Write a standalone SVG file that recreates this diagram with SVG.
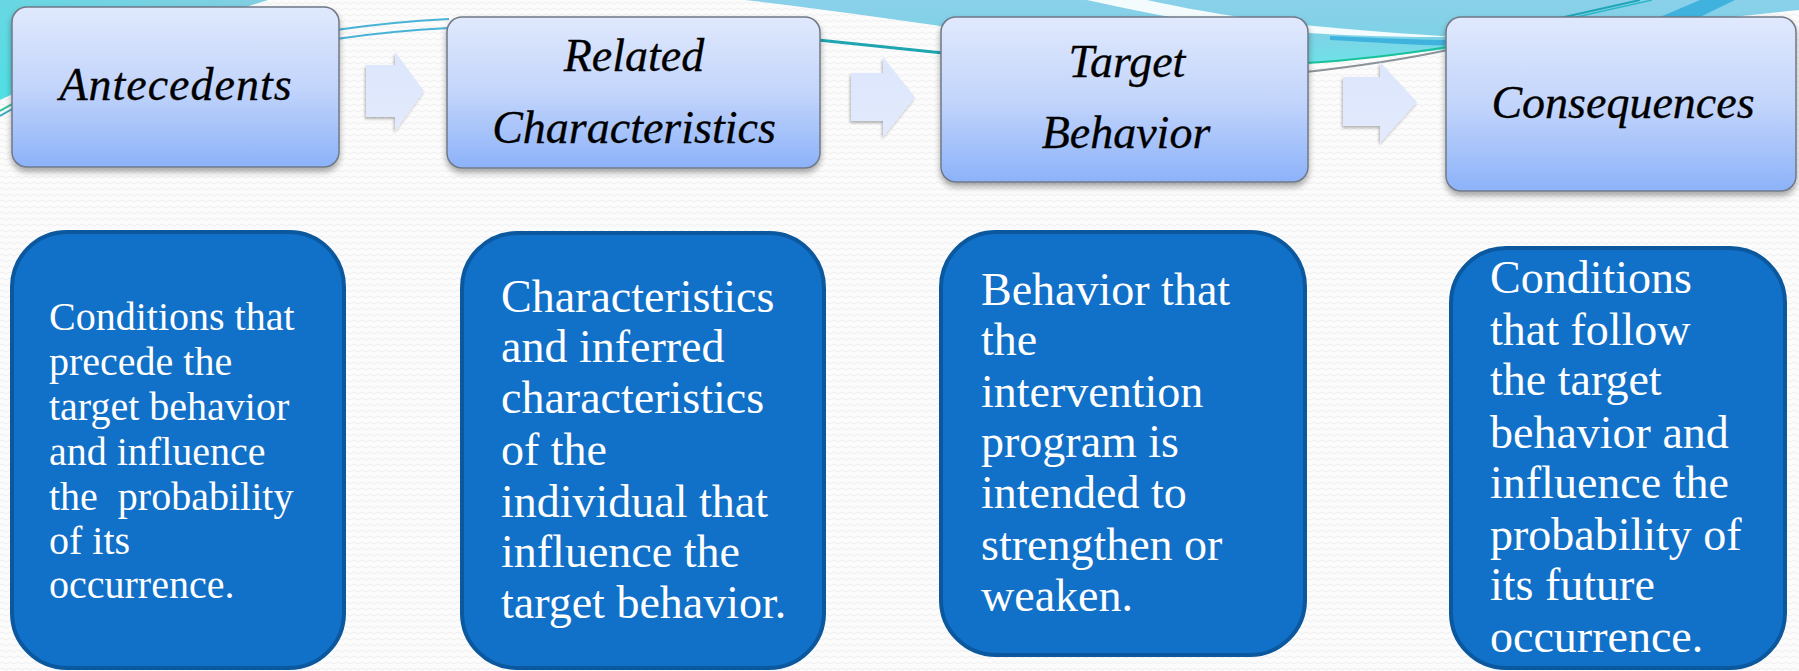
<svg xmlns="http://www.w3.org/2000/svg" width="1799" height="671" viewBox="0 0 1799 671">
  <defs>
    <pattern id="wave" width="8" height="6" patternUnits="userSpaceOnUse">
      <rect width="8" height="6" fill="#fcfcfc"/>
      <path d="M0,3 Q2,0.8 4,3 T8,3" fill="none" stroke="#ebebeb" stroke-width="0.9"/>
    </pattern>
    <linearGradient id="headGrad" x1="0" y1="0" x2="0" y2="1">
      <stop offset="0" stop-color="#e0e9fd"/>
      <stop offset="0.5" stop-color="#c3d5fb"/>
      <stop offset="1" stop-color="#8cb2f9"/>
    </linearGradient>
    <linearGradient id="arrowGrad" x1="0" y1="0" x2="0" y2="1">
      <stop offset="0" stop-color="#dce6fc"/>
      <stop offset="1" stop-color="#e3eafd"/>
    </linearGradient>
    <linearGradient id="cornerGrad" x1="0" y1="1" x2="1" y2="0">
      <stop offset="0" stop-color="#4fe0e4"/>
      <stop offset="1" stop-color="#82cee2"/>
    </linearGradient>
    <linearGradient id="bandGrad" x1="0" y1="0" x2="0" y2="1">
      <stop offset="0" stop-color="#8ad0ea"/>
      <stop offset="0.55" stop-color="#7fd2e6"/>
      <stop offset="1" stop-color="#6ee2e8"/>
    </linearGradient>
    <filter id="boxShadow" x="-10%" y="-10%" width="120%" height="130%">
      <feGaussianBlur in="SourceAlpha" stdDeviation="3"/>
      <feOffset dx="0" dy="4" result="b"/>
      <feComponentTransfer><feFuncA type="linear" slope="0.35"/></feComponentTransfer>
      <feMerge><feMergeNode/><feMergeNode in="SourceGraphic"/></feMerge>
    </filter>
    <filter id="arrowShadow" x="-20%" y="-20%" width="140%" height="140%">
      <feGaussianBlur in="SourceAlpha" stdDeviation="1.5"/>
      <feOffset dx="-1" dy="2" result="b"/>
      <feComponentTransfer><feFuncA type="linear" slope="0.3"/></feComponentTransfer>
      <feMerge><feMergeNode/><feMergeNode in="SourceGraphic"/></feMerge>
    </filter>
  </defs>
  <style>
    .head { fill: url(#headGrad); stroke: #6f7886; stroke-width: 1.5; filter: url(#boxShadow); }
    .headText { font-family: "Liberation Serif", "DejaVu Serif", serif; font-style: italic; font-size: 46px; fill: #000; stroke: #000; stroke-width: 0.3; text-anchor: middle; }
    .card { fill: #1170c8; stroke: #0b589f; stroke-width: 4; }
    .cardText { font-family: "Liberation Serif", "DejaVu Serif", serif; font-size: 46px; fill: #ffffff; white-space: pre; }
    .small { font-size: 40px; }
    .flow { fill: url(#arrowGrad); filter: url(#arrowShadow); }
  </style>

  <!-- textured backdrop -->
  <rect width="1799" height="671" fill="url(#wave)"/>

  <!-- decorative swoosh along the top edge -->
  <g id="swoosh">
    <path d="M0,0 H268 C190,25 80,62 0,100 Z" fill="url(#cornerGrad)"/>
    <path d="M745,0 C900,18 1050,45 1200,58 C1260,63 1300,64 1330,61 C1500,45 1650,25 1799,10 V0 Z" fill="url(#bandGrad)"/>
    <path d="M1087,0 H1147 C1220,16 1300,28 1460,37 C1300,38 1200,26 1087,0 Z" fill="#ffffff" opacity="0.9"/>
    <path d="M1330,36 C1380,38 1420,40 1460,40 L1460,46 C1410,45 1370,42 1330,40 Z" fill="#3fb3de"/>
    <path d="M1660,17 L1700,0 H1735 L1700,17 Z" fill="#3fb3de"/>
    <path d="M0,111 L14,103" stroke="#2cc0a0" stroke-width="2" fill="none"/>
    <path d="M0,116 L14,108" stroke="#3aa9c6" stroke-width="2" fill="none"/>
    <path d="M336,30 Q390,22 449,19" stroke="#48b3d6" stroke-width="2" fill="none"/>
    <path d="M336,39 Q390,31 449,28" stroke="#48b3d6" stroke-width="2" fill="none"/>
    <path d="M818,40 L943,53" stroke="#1ea6b0" stroke-width="3" fill="none"/>
    <path d="M1306,63 C1360,60 1410,53 1448,47" stroke="#19c19a" stroke-width="2.2" fill="none"/>
    <path d="M1306,72 C1360,66 1410,58 1448,50" stroke="#8c9499" stroke-width="2" fill="none"/>
    <path d="M1560,18 L1640,0" stroke="#1fa6b6" stroke-width="2" fill="none"/>
    <path d="M1572,18 L1652,0" stroke="#2cb8c8" stroke-width="1.5" fill="none"/>
  </g>

  <!-- flow arrows between the heading boxes -->
  <g id="connectors">
    <path class="flow" d="M366,65 H395 V52 L424,91 L395,131 V117 H366 Z"/>
    <path class="flow" d="M851,73 H883 V57 L915,97 L883,137 V121 H851 Z"/>
    <path class="flow" d="M1343,77 H1380 V62 L1417,102 L1380,143 V126 H1343 Z"/>
  </g>

  <!-- heading boxes -->
  <g id="antecedents">
    <rect class="head" x="12" y="7" width="327" height="160" rx="15"/>
    <text class="headText" x="176" y="100" letter-spacing="1">Antecedents</text>
  </g>
  <g id="related-characteristics">
    <rect class="head" x="447" y="17" width="373" height="151" rx="15"/>
    <text class="headText" x="634" y="71">Related</text>
    <text class="headText" x="634" y="143">Characteristics</text>
  </g>
  <g id="target-behavior">
    <rect class="head" x="941" y="17" width="367" height="165" rx="15"/>
    <text class="headText" x="1127" y="77">Target</text>
    <text class="headText" x="1126" y="148">Behavior</text>
  </g>
  <g id="consequences">
    <rect class="head" x="1446" y="17" width="350" height="174" rx="15"/>
    <text class="headText" x="1623" y="118">Consequences</text>
  </g>

  <!-- description cards -->
  <g id="antecedents-desc">
    <rect class="card" x="12" y="232" width="332" height="436" rx="55"/>
    <text class="cardText small">
      <tspan x="49" y="330">Conditions that</tspan>
      <tspan x="49" y="375">precede the</tspan>
      <tspan x="49" y="420">target behavior</tspan>
      <tspan x="49" y="465">and influence</tspan>
      <tspan x="49" y="510">the  probability</tspan>
      <tspan x="49" y="554">of its</tspan>
      <tspan x="49" y="598">occurrence.</tspan>
    </text>
  </g>
  <g id="related-desc">
    <rect class="card" x="462" y="233" width="362" height="435" rx="55"/>
    <text class="cardText">
      <tspan x="501" y="312">Characteristics</tspan>
      <tspan x="501" y="362">and inferred</tspan>
      <tspan x="501" y="413">characteristics</tspan>
      <tspan x="501" y="465">of the</tspan>
      <tspan x="501" y="517">individual that</tspan>
      <tspan x="501" y="567">influence the</tspan>
      <tspan x="501" y="618">target behavior.</tspan>
    </text>
  </g>
  <g id="target-desc">
    <rect class="card" x="941" y="232" width="364" height="423" rx="55"/>
    <text class="cardText">
      <tspan x="981" y="305">Behavior that</tspan>
      <tspan x="981" y="355">the</tspan>
      <tspan x="981" y="407">intervention</tspan>
      <tspan x="981" y="457">program is</tspan>
      <tspan x="981" y="508">intended to</tspan>
      <tspan x="981" y="560">strengthen or</tspan>
      <tspan x="981" y="611">weaken.</tspan>
    </text>
  </g>
  <g id="consequences-desc">
    <rect class="card" x="1451" y="248" width="334" height="420" rx="55"/>
    <text class="cardText">
      <tspan x="1490" y="293">Conditions</tspan>
      <tspan x="1490" y="345">that follow</tspan>
      <tspan x="1490" y="395">the target</tspan>
      <tspan x="1490" y="448">behavior and</tspan>
      <tspan x="1490" y="498">influence the</tspan>
      <tspan x="1490" y="550">probability of</tspan>
      <tspan x="1490" y="600">its future</tspan>
      <tspan x="1490" y="652">occurrence.</tspan>
    </text>
  </g>
</svg>
